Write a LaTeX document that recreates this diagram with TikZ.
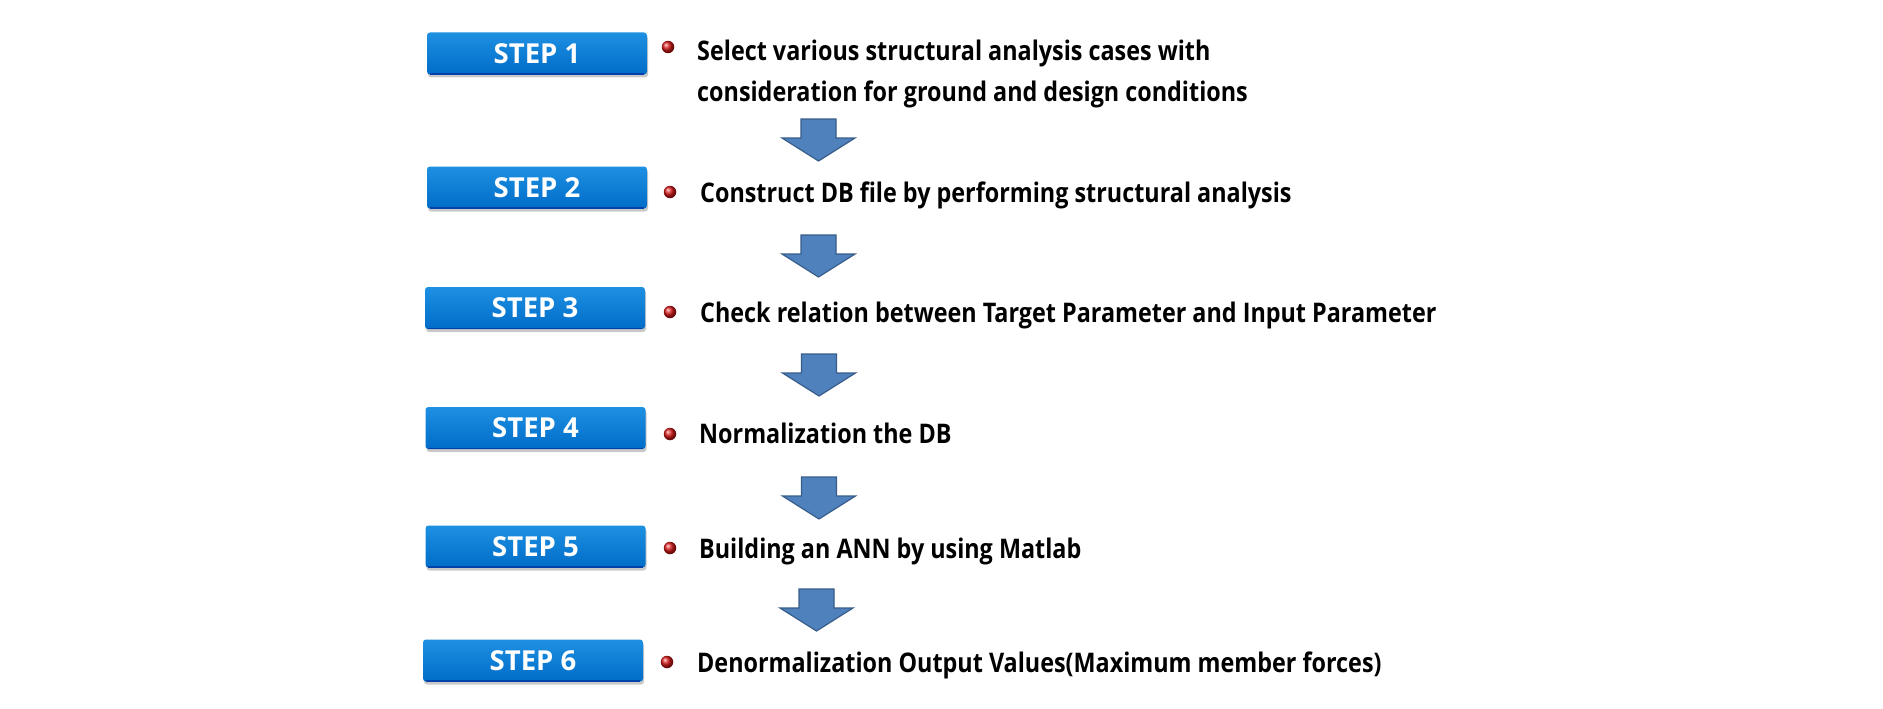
\documentclass[tikz,border=0pt]{standalone}
\usepackage{fontspec}
\setmainfont{Open Sans}
\newfontfamily\txtfont{Open Sans Bold}[FakeStretch=0.865]
\newfontfamily\stepfont{Open Sans Bold}
\usetikzlibrary{shadows}
\definecolor{boxtop}{RGB}{30,144,226}
\definecolor{boxbot}{RGB}{0,108,200}
\definecolor{boxedge}{RGB}{0,66,170}
\definecolor{arrfill}{RGB}{79,129,189}
\definecolor{arredge}{RGB}{56,93,138}
\definecolor{ballred}{RGB}{215,25,25}
\tikzset{
  stepbox/.style={rounded corners=3pt, top color=boxtop, bottom color=boxbot,
    minimum width=220pt, minimum height=42pt, inner sep=0pt, text=white,
    font=\stepfont\fontsize{27.5}{32}\selectfont,
    drop shadow={shadow xshift=1pt, shadow yshift=-3pt, opacity=0.35, fill=black!60}},
  bulletball/.style={circle, inner sep=0pt, minimum size=12.5pt, shading=ball, ball color=ballred},
  desc/.style={anchor=base west, inner sep=0pt, font=\txtfont\fontsize{27}{32}\selectfont, text=black},
  arrowshape/.style={fill=arrfill, draw=arredge, line width=1.2pt, line join=miter},
  blockarrow/.pic={\draw[arrowshape] (-17.5,0) -- (17.5,0) -- (17.5,19) -- (36.5,19) -- (0,42) -- (-36.5,19) -- (-17.5,19) -- cycle;}
}
\begin{document}
\begin{tikzpicture}[x=1pt,y=-1pt]
\useasboundingbox[fill=white] (0,0) rectangle (1883,709);
% boxes
\node[stepbox] (s1) at (537,53.5) {STEP 1};
\node[stepbox] (s2) at (537,187.5) {STEP 2};
\node[stepbox] (s3) at (535,308) {STEP 3};
\node[stepbox] (s4) at (535.5,428) {STEP 4};
\node[stepbox] (s5) at (535.5,546.5) {STEP 5};
\node[stepbox] (s6) at (533,660.5) {STEP 6};
\foreach \n in {s1,s2,s3,s4,s5,s6}{
  \draw[boxedge, line width=1.5pt] ([xshift=3pt,yshift=0.75pt]\n.south west) -- ([xshift=-3pt,yshift=0.75pt]\n.south east);
}
% bullets
\node[bulletball] (b1) at (668,47) {};
\node[bulletball] (b2) at (670,192) {};
\node[bulletball] (b3) at (670,312) {};
\node[bulletball] (b4) at (670,434) {};
\node[bulletball] (b5) at (670,548) {};
\node[bulletball] (b6) at (667,662) {};
% texts
\node[desc] (t1a) at (697,60) {Select various structural analysis cases with};
\node[desc] (t1b) at (697,101) {consideration for ground and design conditions};
\node[desc] (t2) at (700,202) {Construct DB file by performing structural analysis};
\node[desc] (t3) at (700,322) {Check relation between Target Parameter and Input Parameter};
\node[desc] (t4) at (699,443) {Normalization the DB};
\node[desc] (t5) at (699,558) {Building an ANN by using Matlab};
\node[desc] (t6) at (697,672) {Denormalization Output Values(Maximum member forces)};
% arrows
\pic at (818.5,119) {blockarrow};
\pic at (818.5,235) {blockarrow};
\pic at (819,354) {blockarrow};
\pic at (819,477) {blockarrow};
\pic at (816.5,589) {blockarrow};
\end{tikzpicture}
\end{document}
